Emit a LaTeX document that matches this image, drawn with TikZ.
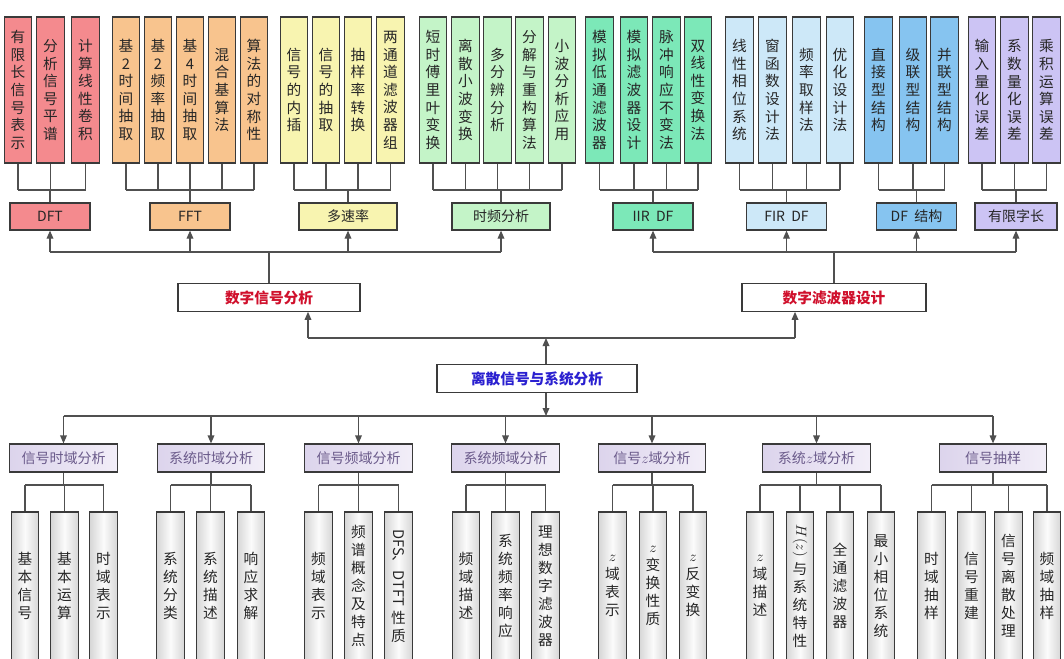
\documentclass[tikz,border=0pt]{standalone}
\usepackage{fontspec}
\setmainfont{Noto Sans CJK SC}
\usetikzlibrary{arrows.meta}
\definecolor{bordc}{HTML}{3A3A3A}
\definecolor{linec}{HTML}{505050}
\definecolor{pinkF}{HTML}{F48A8E}
\definecolor{orangeF}{HTML}{F8C48E}
\definecolor{yellowF}{HTML}{F8F4B0}
\definecolor{lgreenF}{HTML}{C4F4C8}
\definecolor{mintF}{HTML}{7CE8B8}
\definecolor{lblueF}{HTML}{CDE8F8}
\definecolor{blueF}{HTML}{86C4F0}
\definecolor{lavF}{HTML}{CCC4F4}
\definecolor{secL}{HTML}{DCD4EC}
\definecolor{secR}{HTML}{F2EEF8}
\definecolor{secT}{HTML}{6A5A8A}
\definecolor{redT}{HTML}{D0102C}
\definecolor{blueT}{HTML}{2A20D0}
\begin{document}
\begin{tikzpicture}[x=0.75pt,y=-0.75pt,
  tleaf/.style={draw=bordc, line width=0.9pt, minimum width=20.6pt, minimum height=109.5pt, inner sep=0pt, align=center, text=black!85, font=\fontsize{11}{13.2}\selectfont},
  bleaf/.style={draw=bordc, line width=0.9pt, minimum width=20.6pt, minimum height=111pt, inner sep=0pt, align=center, text=black!85, left color=gray!32, right color=gray!32, middle color=gray!3, font=\fontsize{11}{13.5}\selectfont},
  tcat/.style={draw=bordc, line width=0.9pt, minimum width=60pt, minimum height=20.25pt, inner sep=0pt, text=black!85, font=\fontsize{10.5}{12}\selectfont},
  mainbox/.style={draw=bordc, line width=0.9pt, fill=white, minimum height=20.6pt, inner sep=0pt, font=\bfseries\fontsize{11}{12}\selectfont},
  seccat/.style={draw=bordc, line width=0.9pt, left color=secL, right color=secR, minimum width=80.6pt, minimum height=21pt, inner sep=0pt, text=secT, font=\fontsize{10.5}{12}\selectfont},
  conn/.style={draw=linec, line width=0.9pt},
  arr/.style={conn, -{Triangle[length=6pt,width=5pt]}}
]
\useasboundingbox (0,0) rectangle (1064,658);
\clip (0,0) rectangle (1064,658);
\fill[white] (0,0) rectangle (1064,658);

% ---------- top leaves ----------
\foreach \n/\x/\t in {a1/18/{有\\限\\长\\信\\号\\表\\示}, a2/50.5/{分\\析\\信\\号\\平\\谱}, a3/85.5/{计\\算\\线\\性\\卷\\积}}
  \node[tleaf, fill=pinkF] (\n) at (\x,90) {\t};
\foreach \n/\x/\t in {b1/126/{基\\2\\时\\间\\抽\\取}, b2/158/{基\\2\\频\\率\\抽\\取}, b3/190/{基\\4\\时\\间\\抽\\取}, b4/222/{混\\合\\基\\算\\法}, b5/254/{算\\法\\的\\对\\称\\性}}
  \node[tleaf, fill=orangeF] (\n) at (\x,90) {\t};
\foreach \n/\x/\t in {c1/294/{信\\号\\的\\内\\插}, c2/326/{信\\号\\的\\抽\\取}, c3/358/{抽\\样\\率\\转\\换}, c4/390.5/{两\\通\\道\\滤\\波\\器\\组}}
  \node[tleaf, fill=yellowF] (\n) at (\x,90) {\t};
\foreach \n/\x/\t in {d1/433/{短\\时\\傅\\里\\叶\\变\\换}, d2/465.5/{离\\散\\小\\波\\变\\换}, d3/497.5/{多\\分\\辨\\分\\析}, d4/529.5/{分\\解\\与\\重\\构\\算\\法}, d5/562/{小\\波\\分\\析\\应\\用}}
  \node[tleaf, fill=lgreenF] (\n) at (\x,90) {\t};
\foreach \n/\x/\t in {e1/599.5/{模\\拟\\低\\通\\滤\\波\\器}, e2/634/{模\\拟\\滤\\波\\器\\设\\计}, e3/666.5/{脉\\冲\\响\\应\\不\\变\\法}, e4/698/{双\\线\\性\\变\\换\\法}}
  \node[tleaf, fill=mintF] (\n) at (\x,90) {\t};
\foreach \n/\x/\t in {f1/739.5/{线\\性\\相\\位\\系\\统}, f2/772.5/{窗\\函\\数\\设\\计\\法}, f3/806.5/{频\\率\\取\\样\\法}, f4/840/{优\\化\\设\\计\\法}}
  \node[tleaf, fill=lblueF] (\n) at (\x,90) {\t};
\foreach \n/\x/\t in {g1/878.5/{直\\接\\型\\结\\构}, g2/913/{级\\联\\型\\结\\构}, g3/944.5/{并\\联\\型\\结\\构}}
  \node[tleaf, fill=blueF] (\n) at (\x,90) {\t};
\foreach \n/\x/\t in {h1/982/{输\\入\\量\\化\\误\\差}, h2/1014.5/{系\\数\\量\\化\\误\\差}, h3/1046.5/{乘\\积\\运\\算\\误\\差}}
  \node[tleaf, fill=lavF] (\n) at (\x,90) {\t};

% ---------- top categories ----------
\node[tcat, fill=pinkF] (dft) at (50,216.5) {DFT};
\node[tcat, fill=orangeF] (fft) at (190,216.5) {FFT};
\node[tcat, fill=yellowF, minimum width=73.5pt] (mr) at (348,216.5) {多速率};
\node[tcat, fill=lgreenF, minimum width=73.5pt] (tf) at (501,216.5) {时频分析};
\node[tcat, fill=mintF] (iir) at (653,216.5) {IIR\ \ DF};
\node[tcat, fill=lblueF] (fir) at (786.5,216.5) {FIR\ \ DF};
\node[tcat, fill=blueF] (dfs) at (916.5,216.5) {DF\ \ 结构};
\node[tcat, fill=lavF, minimum width=61.5pt] (fw) at (1016,216.5) {有限字长};

% joins leaves -> categories
\foreach \cat/\first/\last/\list in {dft/a1/a3/{a1,a2,a3}, fft/b1/b5/{b1,b2,b3,b4,b5}, mr/c1/c4/{c1,c2,c3,c4}, tf/d1/d5/{d1,d2,d3,d4,d5}, iir/e1/e4/{e1,e2,e3,e4}, fir/f1/f4/{f1,f2,f3,f4}, dfs/g1/g3/{g1,g2,g3}, fw/h1/h3/{h1,h2,h3}} {
  \foreach \l in \list { \draw[conn] (\l.south) -- (\l.south |- 0,190); }
  \draw[conn] (\first.south |- 0,190) -- (\last.south |- 0,190);
  \draw[conn] (\cat.north) -- (\cat.north |- 0,190);
}

% ---------- main boxes ----------
\node[mainbox, minimum width=136.5pt, text=redT] (dsa) at (269,297.5) {数字信号分析};
\node[mainbox, minimum width=138pt, text=redT] (dfd) at (834,297.5) {数字滤波器设计};
\node[mainbox, minimum width=150pt, text=blueT] (ds) at (537,378.5) {离散信号与系统分析};

% arrows to top categories
\foreach \c in {dft,fft,mr,tf,iir,fir,dfs,fw}
  \draw[arr] (\c.south |- 0,252) -- (\c.south);
\draw[conn] (dft.south |- 0,252) -- (tf.south |- 0,252);
\draw[conn] (iir.south |- 0,252) -- (fw.south |- 0,252);
\draw[conn] (dsa.north) -- (dsa.north |- 0,252);
\draw[conn] (dfd.north) -- (dfd.north |- 0,252);

% middle connections
\coordinate (m1) at (308,338);
\coordinate (m2) at (795,338);
\coordinate (m3) at (546,338);
\draw[conn] (m1) -- (m2);
\draw[arr] (m1) -- (m1 |- dsa.south);
\draw[arr] (m2) -- (m2 |- dfd.south);
\draw[arr] (m3 |- ds.north) -- (m3);

% ---------- second level ----------
\node[seccat] (s1) at (63.5,458) {信号时域分析};
\node[seccat] (s2) at (211,458) {系统时域分析};
\node[seccat] (s3) at (358.5,458) {信号频域分析};
\node[seccat] (s4) at (505.5,458) {系统频域分析};
\node[seccat] (s5) at (652,458) {信号$z$域分析};
\node[seccat] (s6) at (816.5,458) {系统$z$域分析};
\node[seccat] (s7) at (993,458) {信号抽样};

\coordinate (b0) at (546,416);
\draw[arr] (b0 |- ds.south) -- (b0);
\draw[conn] (s1.north |- 0,416) -- (s7.north |- 0,416);
\foreach \c in {s1,s2,s3,s4,s5,s6,s7}
  \draw[arr] (\c.north |- 0,416) -- (\c.north);

% ---------- bottom leaves ----------
\foreach \n/\x/\t in {
  p1/25/{基\\本\\信\\号}, p2/64.5/{基\\本\\运\\算}, p3/103.5/{时\\域\\表\\示},
  q1/170.5/{系\\统\\分\\类}, q2/210.5/{系\\统\\描\\述}, q3/251/{响\\应\\求\\解},
  r1/318.5/{频\\域\\表\\示}, r2/358.5/{频\\谱\\概\\念\\及\\特\\点}, r3/398.5/{\rotatebox{-90}{DFS、DTFT}\\[3pt]性\\质},
  t1/466/{频\\域\\描\\述}, t2/505.5/{系\\统\\频\\率\\响\\应}, t3/545.5/{理\\想\\数\\字\\滤\\波\\器},
  u1/612.5/{$z$\\域\\表\\示}, u2/653/{$z$\\变\\换\\性\\质}, u3/693/{$z$\\反\\变\\换},
  v1/760/{$z$\\域\\描\\述}, v2/800/{\rotatebox{-90}{$H(z)$}\\[3pt]与\\系\\统\\特\\性}, v3/840/{全\\通\\滤\\波\\器}, v4/881/{最\\小\\相\\位\\系\\统},
  w1/931.5/{时\\域\\抽\\样}, w2/971.5/{信\\号\\重\\建}, w3/1008.5/{信\\号\\离\\散\\处\\理}, w4/1047/{频\\域\\抽\\样}}
  \node[bleaf] (\n) at (\x,586) {\t};

\foreach \cat/\first/\last/\list in {s1/p1/p3/{p1,p2,p3}, s2/q1/q3/{q1,q2,q3}, s3/r1/r3/{r1,r2,r3}, s4/t1/t3/{t1,t2,t3}, s5/u1/u3/{u1,u2,u3}, s6/v1/v4/{v1,v2,v3,v4}, s7/w1/w4/{w1,w2,w3,w4}} {
  \foreach \l in \list { \draw[conn] (\l.north) -- (\l.north |- 0,485); }
  \draw[conn] (\first.north |- 0,485) -- (\last.north |- 0,485);
  \draw[conn] (\cat.south) -- (\cat.south |- 0,485);
}
\end{tikzpicture}
\end{document}
